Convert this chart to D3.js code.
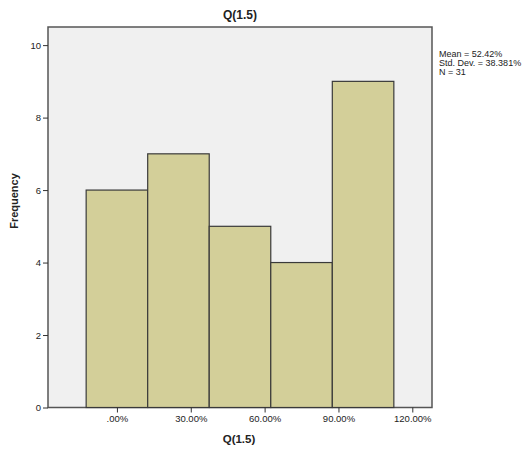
<!DOCTYPE html>
<html><head><meta charset="utf-8">
<script src="https://cdn.jsdelivr.net/npm/d3@7"></script>
<style>body{margin:0;background:#fff;} svg{display:block;font-family:Arial,"Liberation Sans",sans-serif;}</style>
</head><body>
<script>
const binStarts = [-12.5, 12.5, 37.5, 62.5, 87.5];
const binWidth = 25;
const frequencies = [6, 7, 5, 4, 9];
const xTicks = [0, 30, 60, 90, 120];
const yTicks = [0, 2, 4, 6, 8, 10];
const statsLines = ["Mean = 52.42%", "Std. Dev. = 38.381%", "N = 31"];
const title = "Q(1.5)";

const W = 531, H = 453;
const L = 48, R = 432, T = 27, B = 407.5;
const svg = d3.select("body").append("svg").attr("width", W).attr("height", H);
const x = d3.scaleLinear().domain([-28, 128]).range([L, R]);
const y = d3.scaleLinear().domain([0, 10.5]).range([B, T]);

svg.append("rect").attr("x", L).attr("y", T).attr("width", R - L).attr("height", B - T)
  .attr("fill", "#f0f0f0").attr("stroke", "#555").attr("stroke-width", 1.5);

svg.append("g").selectAll("rect").data(frequencies).join("rect")
  .attr("x", (d, i) => x(binStarts[i]))
  .attr("y", d => y(d))
  .attr("width", (d, i) => x(binStarts[i] + binWidth) - x(binStarts[i]))
  .attr("height", d => y(0) - y(d))
  .attr("fill", "#d3cf99").attr("stroke", "#3a3a3a").attr("stroke-width", 1.2);

const yAxis = svg.append("g").attr("transform", `translate(${L},0)`)
  .call(d3.axisLeft(y).tickValues(yTicks).tickSize(5).tickPadding(2));
const xAxis = svg.append("g").attr("transform", `translate(0,${B})`)
  .call(d3.axisBottom(x).tickValues(xTicks).tickSize(5).tickPadding(3)
    .tickFormat(d => d === 0 ? ".00%" : d3.format(".2f")(d) + "%"));
[yAxis, xAxis].forEach(g => {
  g.select(".domain").remove();
  g.selectAll("line").attr("stroke", "#333");
  g.selectAll("text").attr("fill", "#222").style("font-size", "9.5px").style("font-family", "Arial, 'Liberation Sans', sans-serif");
});

svg.append("text").attr("x", (L + R) / 2).attr("y", 19).attr("text-anchor", "middle")
  .style("font-weight", "bold").style("font-size", "12px").attr("fill", "#222").text(title);
svg.append("text").attr("x", 239).attr("y", 443).attr("text-anchor", "middle")
  .style("font-weight", "bold").style("font-size", "11.5px").attr("fill", "#222").text(title);
svg.append("text").attr("transform", `translate(18,201) rotate(-90)`).attr("text-anchor", "middle")
  .style("font-weight", "bold").style("font-size", "11px").attr("fill", "#222").text("Frequency");

svg.append("g").selectAll("text").data(statsLines).join("text")
  .attr("x", 439).attr("y", (d, i) => 57 + i * 9)
  .style("font-size", "9px").attr("fill", "#222").text(d => d);
</script>
</body></html>
